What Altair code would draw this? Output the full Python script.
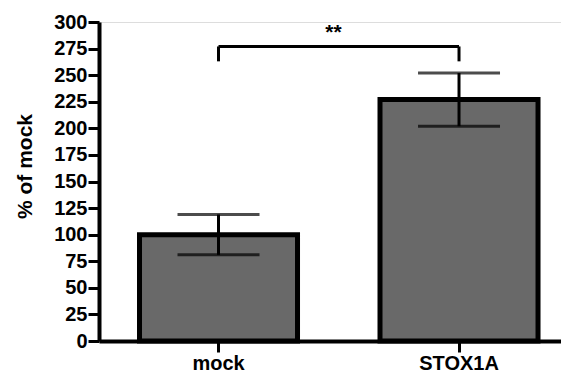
import altair as alt
import pandas as pd

categories = ["mock", "STOX1A"]
means = [100, 227]
sems = [19, 25]
y_ticks = [0, 25, 50, 75, 100, 125, 150, 175, 200, 225, 250, 275, 300]

bracket_y = 277
bracket_tip = 263
star_y = 284
star_label = "**"

df = pd.DataFrame({"group": categories, "mean": means, "sem": sems})
df["low"] = df["mean"] - df["sem"]
df["high"] = df["mean"] + df["sem"]

FONT = "Liberation Sans"

xscale = alt.Scale(domain=categories, paddingInner=0.343, paddingOuter=0.132, align=0.638, round=False)
yscale = alt.Scale(domain=[0, 300], nice=False)

x_axis = alt.Axis(
    title=None, labelAngle=0, labelFont=FONT, labelFontSize=20, labelFontWeight="bold",
    labelColor="black", labelPadding=1, domainColor="black", domainWidth=4,
    tickColor="black", tickWidth=3, tickSize=11, grid=False)
y_axis = alt.Axis(
    title="% of mock", values=y_ticks, labelOverlap=False, labelFont=FONT,
    labelFontSize=20, labelFontWeight="bold", labelColor="black", labelPadding=1,
    domainColor="black", domainWidth=4, tickColor="black", tickWidth=3, tickSize=11,
    grid=False, titleFont=FONT, titleFontSize=21, titleFontWeight="bold",
    titleColor="black", titleAngle=270, titleX=-68, titleY=144,
    titleAlign="center", titleBaseline="alphabetic")


def X(field):
    return alt.X(field, scale=xscale, sort=categories, axis=x_axis, title=None)


def Y(field):
    return alt.Y(field, scale=yscale, axis=y_axis, title="% of mock")


bars = alt.Chart(df).mark_bar(fill="#696969", stroke="black", strokeWidth=5).encode(
    x=X("group:N"), y=Y("mean:Q"),
)

whisker = alt.Chart(df).mark_rule(color="black", strokeWidth=3).encode(
    x=X("group:N"), y=Y("low:Q"), y2="high:Q",
)

cap_low = alt.Chart(df).mark_tick(color="black", thickness=3, size=82, orient="horizontal").encode(
    x=X("group:N"), y=Y("low:Q"),
)
cap_high = alt.Chart(df).mark_tick(color="black", thickness=3, size=82, orient="horizontal").encode(
    x=X("group:N"), y=Y("high:Q"),
)

br = pd.DataFrame({"g1": [categories[0]], "g2": [categories[1]], "y": [bracket_y]})
bracket_h = alt.Chart(br).mark_rule(color="black", strokeWidth=3).encode(
    x=X("g1:N"), x2="g2:N", y=Y("y:Q"),
)
tips = pd.DataFrame({"group": categories, "top": [bracket_y, bracket_y], "bottom": [bracket_tip, bracket_tip]})
bracket_v = alt.Chart(tips).mark_rule(color="black", strokeWidth=3).encode(
    x=X("group:N"), y=Y("top:Q"), y2="bottom:Q",
)
stars = pd.DataFrame({"group": [categories[0]], "y": [star_y], "label": [star_label]})
star_text = alt.Chart(stars).mark_text(font=FONT, fontSize=21, fontWeight="bold", color="black",
                                       baseline="alphabetic", align="center", dx=36).encode(
    x=alt.X("group:N", scale=xscale, sort=categories, axis=x_axis, title=None, bandPosition=1),
    y=Y("y:Q"),
    text="label:N",
)

chart = alt.layer(bars, whisker, cap_low, cap_high, bracket_h, bracket_v, star_text).properties(
    width=462, height=319,
    autosize=alt.AutoSizeParams(type="none"),
    padding={"left": 91, "top": 14, "right": 0, "bottom": 34},
).configure_view(stroke=None).configure(background="white")

chart.save("out.html", embed_options={"renderer": "svg", "actions": False})
